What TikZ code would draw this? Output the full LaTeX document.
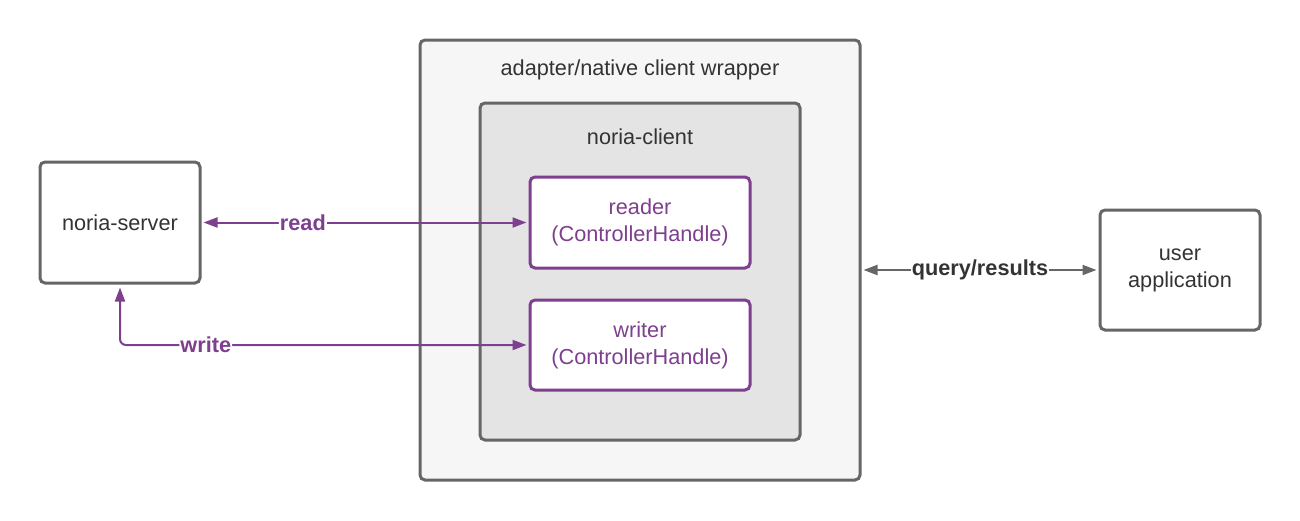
\documentclass[tikz,border=0pt]{standalone}
\usepackage{fontspec}
\setmainfont{Liberation Sans}
\usetikzlibrary{arrows.meta}
\definecolor{edgegray}{HTML}{666666}
\definecolor{txt}{HTML}{333333}
\definecolor{purp}{HTML}{7E3F8E}
\definecolor{outerfill}{HTML}{F6F6F6}
\definecolor{innerfill}{HTML}{E4E4E4}
\tikzset{
  box/.style={draw=edgegray, line width=1.5pt, rounded corners=2.5pt, fill=white, text=txt, align=center, inner sep=0pt, font=\fontsize{10.85}{13.5}\selectfont},
  pbox/.style={box, draw=purp, text=purp},
  title/.style={text=txt, inner sep=0pt, font=\fontsize{10.85}{13.5}\selectfont},
  parrow/.style={draw=purp, line width=1pt, {Triangle[length=7pt,width=5pt]}-{Triangle[length=7pt,width=5pt]}, rounded corners=3pt},
  garrow/.style={draw=edgegray, line width=1pt, {Triangle[length=7pt,width=5pt]}-{Triangle[length=7pt,width=5pt]}},
  lbl/.style={fill=white, inner xsep=0.5pt, inner ysep=1pt, font=\bfseries\fontsize{10.85}{13.5}\selectfont},
}
\begin{document}
\begin{tikzpicture}[x=0.5pt,y=-0.5pt]
\useasboundingbox (0,0) rectangle (1300,520);
\node[box, minimum width=80pt, minimum height=60.5pt] (server) at (120,222.5) {noria-server};
\node[box, fill=outerfill, minimum width=220pt, minimum height=220pt] (wrap) at (640,260) {};
\node[title] (wraptitle) at (640,70) {adapter/native client wrapper};
\node[box, fill=innerfill, minimum width=160pt, minimum height=168.5pt] (client) at (640,271.5) {};
\node[title] (clienttitle) at (640,137) {noria-client};
\node[pbox, minimum width=110pt, minimum height=45.5pt] (reader) at (640,222.5) {reader\\(ControllerHandle)};
\node[pbox, minimum width=110pt, minimum height=45pt] (writer) at (640,345) {writer\\(ControllerHandle)};
\node[box, minimum width=80pt, minimum height=60pt] (user) at (1180,270) {user\\application};
\coordinate (wcorner) at (120,345);
\draw[parrow, shorten <=1pt, shorten >=1pt] (server.east |- reader.west) -- node[lbl, text=purp, pos=0.31] {read} (reader.west);
\draw[parrow, shorten <=1.5pt, shorten >=1pt] (server.south) -- (wcorner) -- node[lbl, text=purp, pos=0.21] {write} (writer.west);
\draw[garrow, shorten <=1pt, shorten >=1pt] (wrap.east |- user.west) -- node[lbl, text=txt, pos=0.5] {query/results} (user.west);
\end{tikzpicture}
\end{document}
